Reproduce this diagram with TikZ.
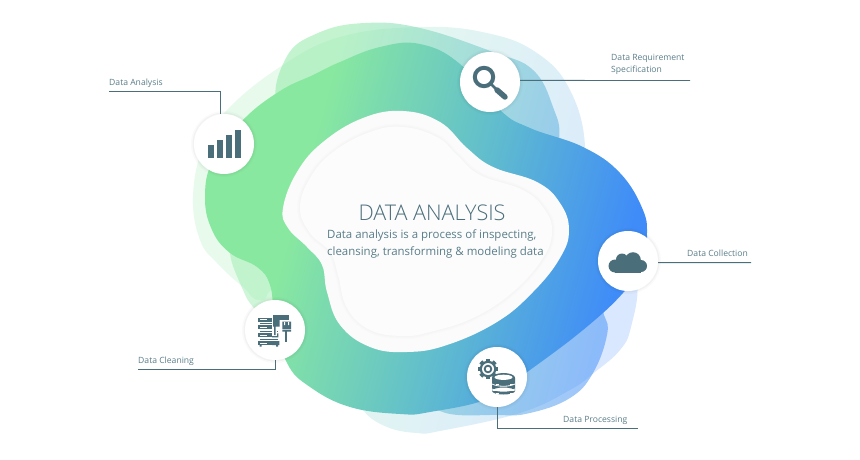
\documentclass[tikz,border=0pt]{standalone}
\usepackage{fontspec}
\setmainfont{Open Sans}
\newfontfamily\lightfont{Open Sans Light}
\usetikzlibrary{calc}
\definecolor{slate}{HTML}{4B6E7B}
\definecolor{captxt}{HTML}{5A7D89}
\definecolor{pale}{HTML}{FBFBFB}
\definecolor{paler}{HTML}{FCFCFC}
\definecolor{gA}{HTML}{88E8A0}
\definecolor{gB}{HTML}{62BFCB}
\definecolor{gC}{HTML}{3F8CF8}
\pgfdeclarehorizontalshading{blobshade}{100bp}{color(0bp)=(gA);color(43bp)=(gA);color(51.5bp)=(gB);color(60bp)=(gC);color(100bp)=(gC)}
\newcommand{\blobfill}[2]{\begin{scope}
    \clip plot[smooth cycle,tension=.7] coordinates {#2};
    \shade[shading=blobshade,shading angle=-15,opacity=#1] (-100,-100) rectangle (960,560);
    \end{scope}}
\newcommand{\innerblob}{plot[smooth cycle,tension=.7] coordinates {(300,208)(310,178)(333,152)(370,132)(403,127)(437,137)(457,155)(480,175)(523,190)(545,210)(552,232)(543,258)(513,292)(473,318)(430,332)(403,336)(370,330)(347,308)(338,275)(330,252)(310,233)}}
\tikzset{
    leader/.style={draw=slate,line width=.9pt},
    icondot/.style={circle,fill=white,minimum size=60pt,inner sep=0pt,
        preaction={draw=black,opacity=.02,line width=6pt},
        preaction={draw=black,opacity=.03,line width=3pt}},
    caption/.style={anchor=base west,text=captxt,inner sep=0pt,font=\fontsize{8.6}{12}\selectfont}
}
\begin{document}
\begin{tikzpicture}[x=1pt,y=-1pt]
    \useasboundingbox (0,0) rectangle (860,460);
    \blobfill{.2}{(193,197)(203,147)(227,110)(280,67)(340,37)(420,27)(487,33)(537,53)(570,90)(585,147)(575,200)(500,250)(300,280)(262,300)(243,287)(217,263)(200,240)}
    \blobfill{.5}{(278,110)(286,58)(318,33)(365,23)(420,28)(493,52)(533,70)(553,107)(559,140)(545,190)(450,200)(320,160)}
    \blobfill{.2}{(620,230)(637,280)(631,327)(620,350)(595,372)(570,390)(520,413)(440,431)(417,433)(387,427)(363,410)(350,380)(450,300)}
    \blobfill{.5}{(590,290)(604,315)(607,335)(593,373)(570,398)(530,413)(497,415)(440,411)(420,380)(520,310)}
    \blobfill{.4}{(230,253)(243,290)(253,307)(270,325)(290,300)(270,260)(240,235)}
    \blobfill{1}{(205,197)(213,160)(243,120)(280,91)(313,75)(340,62)(380,47)(420,44)(460,64)(500,110)(530,128)(583,147)(620,173)(643,210)(647,237)(644,262)(623,293)(583,330)(530,370)(490,398)(430,412)(400,414)(350,407)(310,387)(287,363)(275,320)(270,285)(257,267)(230,253)(212,230)}
    \fill[pale] plot[smooth cycle,tension=.7] coordinates {(283,208)(297,172)(323,142)(363,118)(403,111)(440,122)(467,148)(493,167)(537,182)(560,203)(569,230)(560,258)(533,292)(497,322)(447,345)(407,352)(370,347)(340,325)(327,292)(322,265)(307,247)(288,228)};
    \foreach \w in {2,4,6}
        \draw[black,opacity=.008,line width=\w pt] \innerblob;
    \fill[paler] \innerblob;
    \node[anchor=base,text=slate,inner sep=0pt,font=\lightfont\fontsize{21.6}{24}\selectfont] (title) at (432,220) {DATA ANALYSIS};
    \node[anchor=base west,text=captxt,inner sep=0pt,align=left,font=\fontsize{11.45}{17}\selectfont] (subtitle) at (327,255) {Data analysis is a process of inspecting,\\cleansing, transforming \& modeling data};
    \node[icondot] (chartdot) at (224,144) {};
    \node[icondot] (lensdot) at (490,82) {};
    \node[icondot] (clouddot) at (628,261) {};
    \node[icondot] (cleandot) at (275,330) {};
    \node[icondot] (procdot) at (497,377) {};
    \node[caption] (analysislabel) at (109,85) {Data Analysis};
    \node[caption,align=left] (reqlabel) at (611,73) {Data Requirement\\Specification};
    \node[caption] (collectlabel) at (687,256) {Data Collection};
    \node[caption] (cleanlabel) at (138,363) {Data Cleaning};
    \node[caption] (proclabel) at (563,422) {Data Processing};
    \coordinate (analysisend) at (109,91.5);
    \coordinate (reqend) at (690,80.5);
    \coordinate (collectend) at (751,262.6);
    \coordinate (cleanend) at (138,369);
    \coordinate (procend) at (638,428);
    \draw[leader] (chartdot.96) |- (analysisend);
    \draw[leader] (lensdot.3) -- (reqend);
    \draw[leader] (clouddot.-3) -- (collectend);
    \draw[leader] (cleandot.south) |- (cleanend);
    \draw[leader] (procdot.south) |- (procend);
    \foreach \x/\t in {208/145,217/140,226/135,235/130}
        \fill[slate] (\x,\t) rectangle (\x+6,158);
    \draw[slate,line width=4pt] (484,77) circle (9.2);
    \draw[slate,line width=2.5pt] (491,84) -- (497,90);
    \draw[slate,line width=5.5pt,line cap=round] (497,90) -- (505,97);
    \fill[slate] (615,266) circle (6.5) (622,259.5) circle (6) (633,260) circle (7.8) (641,266) circle (6);
    \fill[slate] (615,262) rectangle (641,272.5);
    \foreach \y in {317.7,325.3,333.3,341} {
        \fill[slate] (258.3,\y) rectangle (272,\y+4);
        \fill[white] (260,\y+1.5) rectangle (267,\y+2.5);
    }
    \fill[slate] (272,333.3) rectangle (278.3,337.3) (272,341) rectangle (279.3,345);
    \foreach \y in {323,330.7,338.7}
        \fill[slate] (260,\y) rectangle (278,\y+1);
    \fill[slate] (259.5,345) rectangle (261.5,346.5) (276,345) rectangle (278,346.5);
    \fill[white] (271.5,320) rectangle (277,336);
    \fill[slate] (272.7,315) rectangle (289.3,320);
    \fill[slate] (273,320) rectangle (279.5,326.7) (274,326) rectangle (275.5,335);
    \fill[slate] (282.3,321.7) rectangle (291,329.3) (282.3,330) rectangle (291,331.7);
    \fill[white] (284,322) rectangle (285,325) (288,322) rectangle (289,325);
    \fill[slate] (285.4,331) rectangle (286.6,341.7);
    \foreach \a in {0,45,...,315}
        \fill[slate,shift={(488,369)},rotate=\a] (-2,-10.2) rectangle (2,-7);
    \fill[slate] (488,369) circle (8.3);
    \fill[white] (488,369) circle (6);
    \fill[slate] (488,369) circle (4.3);
    \fill[white] (488,369) circle (2.2);
    \fill[white] (503.5,385) ellipse (13.5 and 12);
    \fill[slate] (492,378) rectangle (515,391) (503.5,391) ellipse (11.5 and 3.5);
    \fill[slate] (503.5,377.7) ellipse (11.5 and 4.7);
    \fill[white] (503.5,377.3) ellipse (9 and 2.6);
    \draw[white,line width=.8pt] (492,384) .. controls (498,387) and (509,387) .. (515,384);
    \draw[white,line width=.8pt] (492,389) .. controls (498,392) and (509,392) .. (515,389);
    \foreach \x/\y in {496/383.5,510/383.5,496/388.8,510/388.8,496/393,510/393}
        \fill[white] (\x,\y) rectangle (\x+2.5,\y+.9);
\end{tikzpicture}
\end{document}
